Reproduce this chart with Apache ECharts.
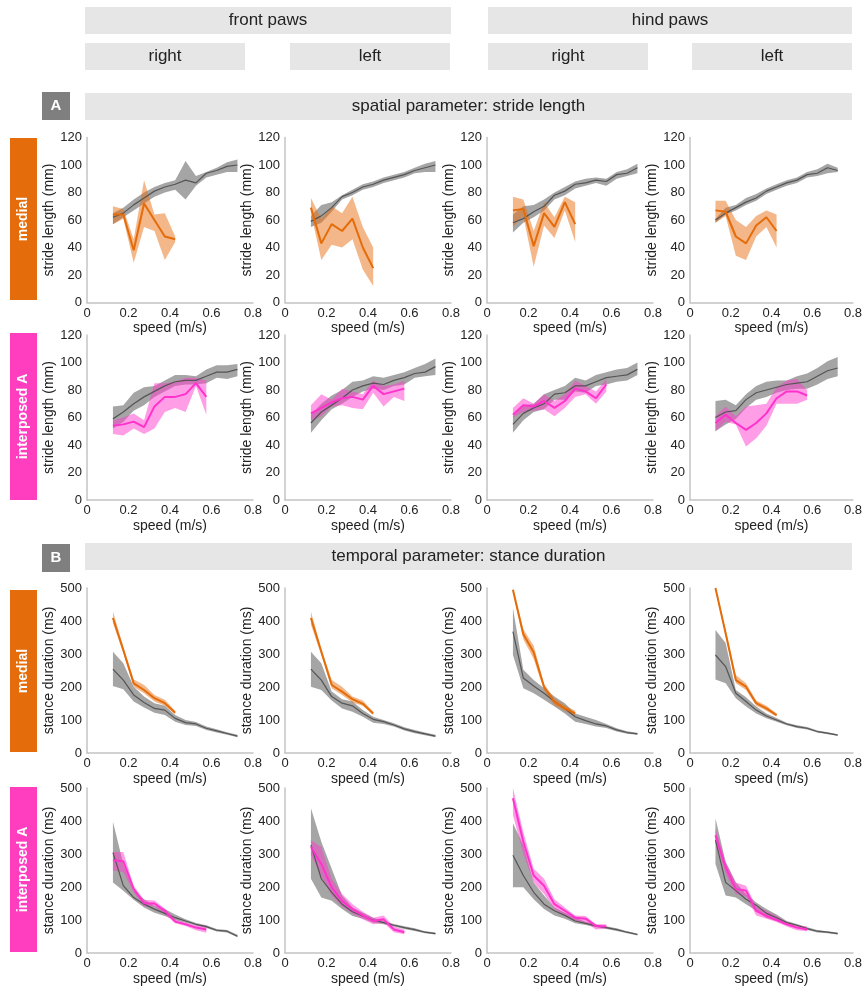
<!DOCTYPE html>
<html>
<head>
<meta charset="utf-8">
<script src="https://cdn.jsdelivr.net/npm/echarts@6/dist/echarts.min.js"></script>
<style>
  body { margin: 0; background: #fff; }
  #main { width: 865px; height: 987px; }
</style>
</head>
<body>
<div id="main"></div>
<script>
// speed bins (m/s)
var speedAll = [0.125, 0.175, 0.225, 0.275, 0.325, 0.375, 0.425, 0.475, 0.525, 0.575, 0.625, 0.675, 0.725];
var speedMed = [0.125, 0.175, 0.225, 0.275, 0.325, 0.375, 0.425];
var speedInt = [0.125, 0.175, 0.225, 0.275, 0.325, 0.375, 0.425, 0.475, 0.525, 0.575];

// stride length (mm), medial row -- ref = grey, grp = coloured
var stMedFR_ref = [62, 65, 71, 76, 81, 84, 86, 89, 87, 94, 96, 99, 100];
var stMedFR_refLo = [57, 62, 67, 72, 77, 80, 82, 75, 85, 91, 93, 95, 95];
var stMedFR_refHi = [65, 69, 75, 80, 84, 87, 89, 103, 92, 95, 98, 102, 104];
var stMedFR_grp = [64, 64, 38, 72, 60, 48, 46];
var stMedFR_grpLo = [57, 61, 29, 55, 52, 31, 44];
var stMedFR_grpHi = [70, 68, 46, 89, 64, 65, 48];

var stMedFL_ref = [59, 63, 69, 77, 80, 84, 86, 89, 91, 93, 96, 98, 100];
var stMedFL_refLo = [55, 58, 66, 75, 78, 82, 84, 87, 89, 91, 94, 95, 95];
var stMedFL_refHi = [63, 71, 73, 78, 82, 86, 88, 91, 93, 95, 98, 101, 103];
var stMedFL_grp = [69, 43, 57, 52, 61, 40, 25];
var stMedFL_grpLo = [65, 31, 42, 40, 46, 24, 12];
var stMedFL_grpHi = [76, 61, 70, 65, 77, 55, 40];

var stMedHR_ref = [58, 61, 66, 70, 78, 81, 86, 87, 89, 88, 93, 94, 98];
var stMedHR_refLo = [51, 58, 62, 67, 75, 78, 83, 85, 87, 85, 90, 92, 94];
var stMedHR_refHi = [64, 70, 71, 75, 80, 84, 88, 90, 91, 90, 95, 97, 101];
var stMedHR_grp = [67, 68, 41, 65, 55, 73, 57];
var stMedHR_grpLo = [55, 63, 26, 56, 47, 67, 44];
var stMedHR_grpHi = [77, 75, 52, 73, 62, 77, 73];

var stMedHL_ref = [60, 65, 69, 73, 76, 81, 84, 87, 89, 93, 94, 98, 96];
var stMedHL_refLo = [58, 64, 67, 71, 74, 79, 82, 85, 87, 91, 92, 94, 95];
var stMedHL_refHi = [61, 69, 71, 76, 79, 83, 86, 89, 91, 95, 97, 101, 98];
var stMedHL_grp = [67, 66, 48, 43, 56, 62, 52];
var stMedHL_grpLo = [58, 63, 34, 31, 48, 55, 40];
var stMedHL_grpHi = [74, 74, 60, 55, 63, 67, 64];

// stride length (mm), interposed A row
var stIntFR_ref = [59, 64, 70, 75, 79, 83, 86, 87, 87, 90, 93, 93, 95];
var stIntFR_refLo = [52, 57, 65, 69, 75, 79, 83, 84, 84, 85, 89, 88, 90];
var stIntFR_refHi = [68, 69, 78, 82, 83, 87, 91, 91, 90, 95, 98, 98, 99];
var stIntFR_grp = [54, 55, 57, 53, 68, 75, 75, 77, 85, 75];
var stIntFR_grpLo = [48, 47, 52, 48, 52, 64, 67, 64, 83, 62];
var stIntFR_grpHi = [58, 60, 63, 58, 85, 85, 86, 89, 89, 87];

var stIntFL_ref = [56, 64, 69, 74, 80, 83, 85, 84, 87, 89, 92, 93, 97];
var stIntFL_refLo = [49, 58, 66, 70, 75, 79, 81, 80, 83, 84, 89, 90, 91];
var stIntFL_refHi = [62, 70, 76, 80, 86, 87, 90, 89, 91, 93, 96, 99, 103];
var stIntFL_grp = [63, 67, 71, 74, 75, 73, 83, 77, 79, 81];
var stIntFL_grpLo = [58, 61, 68, 69, 67, 66, 78, 68, 75, 72];
var stIntFL_grpHi = [69, 77, 73, 81, 79, 77, 87, 83, 84, 87];

var stIntHR_ref = [55, 63, 67, 70, 77, 78, 83, 83, 86, 89, 90, 91, 95];
var stIntHR_refLo = [49, 58, 64, 66, 73, 73, 79, 78, 83, 84, 86, 87, 91];
var stIntHR_refHi = [61, 69, 70, 77, 80, 83, 89, 87, 91, 93, 95, 96, 100];
var stIntHR_grp = [62, 69, 68, 72, 67, 72, 81, 79, 74, 84];
var stIntHR_grpLo = [60, 64, 65, 66, 61, 67, 75, 77, 70, 79];
var stIntHR_grpHi = [67, 74, 70, 77, 72, 77, 87, 83, 79, 88];

var stIntHL_ref = [60, 64, 65, 73, 78, 80, 82, 84, 85, 86, 90, 94, 96];
var stIntHL_refLo = [50, 55, 59, 67, 73, 75, 78, 80, 81, 81, 84, 88, 90];
var stIntHL_refHi = [72, 73, 69, 77, 83, 86, 87, 87, 90, 92, 96, 101, 104];
var stIntHL_grp = [56, 62, 56, 51, 56, 63, 74, 79, 79, 76];
var stIntHL_grpLo = [50, 57, 55, 39, 45, 54, 70, 70, 70, 73];
var stIntHL_grpHi = [61, 68, 61, 68, 69, 70, 82, 87, 88, 80];

// stance duration (ms), medial row
var sdMedFR_ref = [254, 221, 176, 153, 135, 130, 105, 92, 88, 75, 67, 59, 51];
var sdMedFR_refLo = [203, 193, 156, 138, 122, 115, 95, 85, 82, 70, 62, 55, 48];
var sdMedFR_refHi = [307, 272, 201, 171, 151, 143, 115, 100, 94, 80, 72, 63, 55];
var sdMedFR_grp = [409, 312, 211, 191, 166, 151, 122];
var sdMedFR_grpLo = [394, 302, 201, 181, 156, 143, 118];
var sdMedFR_grpHi = [429, 322, 223, 206, 176, 161, 128];

var sdMedFL_ref = [254, 221, 171, 151, 143, 120, 102, 95, 85, 73, 65, 58, 51];
var sdMedFL_refLo = [201, 191, 159, 135, 125, 110, 92, 88, 80, 68, 60, 54, 48];
var sdMedFL_refHi = [307, 272, 186, 163, 156, 130, 110, 100, 90, 78, 70, 62, 55];
var sdMedFL_grp = [409, 307, 206, 186, 163, 149, 120];
var sdMedFL_grpLo = [389, 297, 196, 176, 153, 143, 115];
var sdMedFL_grpHi = [429, 317, 221, 201, 171, 159, 125];

var sdMedHR_ref = [368, 227, 203, 181, 156, 135, 110, 98, 88, 82, 70, 62, 58];
var sdMedHR_refLo = [297, 196, 181, 161, 141, 120, 95, 88, 80, 76, 65, 58, 55];
var sdMedHR_refHi = [439, 252, 221, 196, 171, 151, 120, 110, 100, 88, 75, 66, 61];
var sdMedHR_grp = [495, 360, 305, 200, 155, 135, 120];
var sdMedHR_grpLo = [485, 345, 285, 190, 145, 127, 112];
var sdMedHR_grpHi = [500, 375, 325, 210, 165, 145, 128];

var sdMedHL_ref = [297, 262, 181, 156, 130, 112, 100, 88, 80, 75, 65, 60, 54];
var sdMedHL_refLo = [223, 211, 166, 141, 120, 105, 95, 84, 76, 71, 62, 57, 52];
var sdMedHL_refHi = [373, 333, 191, 169, 141, 120, 106, 92, 84, 79, 68, 63, 57];
var sdMedHL_grp = [500, 363, 221, 201, 151, 135, 115];
var sdMedHL_grpLo = [495, 353, 211, 191, 143, 128, 110];
var sdMedHL_grpHi = [500, 373, 236, 211, 159, 143, 120];

// stance duration (ms), interposed A row
var sdIntFR_ref = [304, 204, 168, 148, 133, 120, 107, 97, 87, 80, 69, 66, 51];
var sdIntFR_refLo = [214, 189, 161, 138, 122, 112, 100, 92, 83, 76, 65, 62, 48];
var sdIntFR_refHi = [398, 270, 189, 163, 143, 133, 117, 102, 91, 84, 73, 70, 55];
var sdIntFR_grp = [281, 278, 194, 151, 150, 128, 95, 87, 77, 71];
var sdIntFR_grpLo = [250, 245, 184, 141, 141, 117, 90, 82, 69, 61];
var sdIntFR_grpHi = [306, 306, 204, 161, 159, 135, 102, 92, 84, 84];

var sdIntFL_ref = [327, 225, 184, 148, 125, 112, 100, 92, 84, 77, 71, 63, 59];
var sdIntFL_refLo = [225, 168, 158, 133, 112, 104, 92, 87, 80, 73, 67, 60, 56];
var sdIntFL_refHi = [439, 337, 255, 174, 138, 122, 107, 97, 88, 81, 75, 66, 62];
var sdIntFL_grp = [321, 270, 199, 158, 133, 114, 97, 102, 71, 63];
var sdIntFL_grpLo = [296, 235, 174, 141, 120, 102, 87, 92, 63, 57];
var sdIntFL_grpHi = [342, 321, 225, 179, 148, 125, 107, 114, 80, 71];

var sdIntHR_ref = [296, 235, 184, 148, 128, 114, 97, 90, 82, 77, 71, 63, 56];
var sdIntHR_refLo = [199, 199, 163, 133, 114, 104, 90, 85, 78, 73, 67, 60, 53];
var sdIntHR_refHi = [393, 327, 214, 174, 138, 122, 107, 95, 86, 81, 75, 66, 59];
var sdIntHR_grp = [469, 337, 235, 204, 148, 128, 107, 104, 82, 80];
var sdIntHR_grpLo = [418, 301, 214, 179, 133, 114, 97, 92, 71, 74];
var sdIntHR_grpHi = [500, 367, 255, 225, 163, 138, 114, 112, 87, 87];

var sdIntHL_ref = [342, 214, 189, 163, 145, 120, 107, 92, 84, 74, 66, 63, 59];
var sdIntHL_refLo = [270, 174, 168, 148, 128, 107, 97, 87, 80, 70, 62, 60, 56];
var sdIntHL_refHi = [408, 276, 214, 179, 153, 133, 117, 97, 88, 78, 70, 66, 62];
var sdIntHL_grp = [357, 260, 194, 189, 128, 112, 100, 87, 77, 71];
var sdIntHL_grpLo = [337, 240, 179, 171, 114, 104, 94, 80, 69, 66];
var sdIntHL_grpHi = [378, 276, 214, 204, 141, 128, 112, 94, 84, 80];

var ORANGE = '#e46c0a', ORANGE_BAND = 'rgba(232,112,20,0.5)';
var PINK = '#ff33cc', PINK_BAND = 'rgba(255,60,205,0.5)';
var GREY = '#555555', GREY_BAND = 'rgba(105,105,105,0.6)';
var FONT = '"Liberation Sans", Arial, sans-serif';

// panel list, row by row
var panels = [
  [speedMed, stMedFR_ref, stMedFR_refLo, stMedFR_refHi, stMedFR_grp, stMedFR_grpLo, stMedFR_grpHi],
  [speedMed, stMedFL_ref, stMedFL_refLo, stMedFL_refHi, stMedFL_grp, stMedFL_grpLo, stMedFL_grpHi],
  [speedMed, stMedHR_ref, stMedHR_refLo, stMedHR_refHi, stMedHR_grp, stMedHR_grpLo, stMedHR_grpHi],
  [speedMed, stMedHL_ref, stMedHL_refLo, stMedHL_refHi, stMedHL_grp, stMedHL_grpLo, stMedHL_grpHi],
  [speedInt, stIntFR_ref, stIntFR_refLo, stIntFR_refHi, stIntFR_grp, stIntFR_grpLo, stIntFR_grpHi],
  [speedInt, stIntFL_ref, stIntFL_refLo, stIntFL_refHi, stIntFL_grp, stIntFL_grpLo, stIntFL_grpHi],
  [speedInt, stIntHR_ref, stIntHR_refLo, stIntHR_refHi, stIntHR_grp, stIntHR_grpLo, stIntHR_grpHi],
  [speedInt, stIntHL_ref, stIntHL_refLo, stIntHL_refHi, stIntHL_grp, stIntHL_grpLo, stIntHL_grpHi],
  [speedMed, sdMedFR_ref, sdMedFR_refLo, sdMedFR_refHi, sdMedFR_grp, sdMedFR_grpLo, sdMedFR_grpHi],
  [speedMed, sdMedFL_ref, sdMedFL_refLo, sdMedFL_refHi, sdMedFL_grp, sdMedFL_grpLo, sdMedFL_grpHi],
  [speedMed, sdMedHR_ref, sdMedHR_refLo, sdMedHR_refHi, sdMedHR_grp, sdMedHR_grpLo, sdMedHR_grpHi],
  [speedMed, sdMedHL_ref, sdMedHL_refLo, sdMedHL_refHi, sdMedHL_grp, sdMedHL_grpLo, sdMedHL_grpHi],
  [speedInt, sdIntFR_ref, sdIntFR_refLo, sdIntFR_refHi, sdIntFR_grp, sdIntFR_grpLo, sdIntFR_grpHi],
  [speedInt, sdIntFL_ref, sdIntFL_refLo, sdIntFL_refHi, sdIntFL_grp, sdIntFL_grpLo, sdIntFL_grpHi],
  [speedInt, sdIntHR_ref, sdIntHR_refLo, sdIntHR_refHi, sdIntHR_grp, sdIntHR_grpLo, sdIntHR_grpHi],
  [speedInt, sdIntHL_ref, sdIntHL_refLo, sdIntHL_refHi, sdIntHL_grp, sdIntHL_grpLo, sdIntHL_grpHi]
];

var colLeft = [87, 285, 487, 690];
var rowTop = [137.5, 335, 588, 788];

var grids = [], xAxes = [], yAxes = [], series = [];

function pairs(x, y) {
  return x.map(function (v, i) { return [v, y[i]]; });
}

// shaded band between lo and hi, drawn as one polygon through the axis scales
function addBand(gi, x, lo, hi, color) {
  series.push({
    type: 'custom', xAxisIndex: gi, yAxisIndex: gi, silent: true,
    data: x.map(function (v, i) { return [v, lo[i], hi[i]]; }),
    encode: { x: 0, y: [1, 2] },
    renderItem: function (params, api) {
      if (params.dataIndex !== 0) return;
      var pts = [], i;
      for (i = 0; i < x.length; i++) pts.push(api.coord([x[i], hi[i]]));
      for (i = x.length - 1; i >= 0; i--) pts.push(api.coord([x[i], lo[i]]));
      return { type: 'polygon', shape: { points: pts }, style: { fill: color } };
    }
  });
}

function addLine(gi, x, y, color, w) {
  series.push({ type: 'line', xAxisIndex: gi, yAxisIndex: gi, symbol: 'none', silent: true,
    data: pairs(x, y), lineStyle: { color: color, width: w } });
}

panels.forEach(function (p, i) {
  var row = Math.floor(i / 4), col = i % 4;
  var stride = row < 2;
  var interposed = row % 2 === 1;
  grids.push({ left: colLeft[col], top: rowTop[row], width: 166, height: 165 });
  xAxes.push({
    gridIndex: i, type: 'value', min: 0, max: 0.8, interval: 0.2,
    name: 'speed (m/s)', nameLocation: 'middle', nameGap: 19,
    nameTextStyle: { fontSize: 14, color: '#222', fontFamily: FONT },
    axisLine: { show: true, lineStyle: { color: '#c4c4c4', width: 1.5 } },
    axisTick: { show: false }, splitLine: { show: false },
    axisLabel: { fontSize: 13, color: '#222', margin: 4, fontFamily: FONT,
      formatter: function (v) { return v === 0 ? '0' : v.toFixed(1); } }
  });
  yAxes.push({
    gridIndex: i, type: 'value', min: 0, max: stride ? 120 : 500, interval: stride ? 20 : 100,
    name: stride ? 'stride length (mm)' : 'stance duration (ms)',
    nameLocation: 'middle', nameGap: 30,
    nameTextStyle: { fontSize: 14, color: '#222', fontFamily: FONT },
    axisLine: { show: true, lineStyle: { color: '#c4c4c4', width: 1.5 } },
    axisTick: { show: false }, splitLine: { show: false },
    axisLabel: { fontSize: 13, color: '#222', margin: 5, fontFamily: FONT }
  });
  var x = p[0];
  addBand(i, speedAll, p[2], p[3], GREY_BAND);
  addLine(i, speedAll, p[1], GREY, 1.2);
  addBand(i, x, p[5], p[6], interposed ? PINK_BAND : ORANGE_BAND);
  addLine(i, x, p[4], interposed ? PINK : ORANGE, 2);
});

// headers, section titles and row labels
var graphics = [];
function box(x, y, w, h, fill, label, size, bold, color) {
  graphics.push({
    type: 'rect', shape: { x: x, y: y, width: w, height: h }, style: { fill: fill },
    textContent: { style: { text: label, fontSize: size, fontFamily: FONT, fontWeight: bold ? 'bold' : 'normal', fill: color } },
    textConfig: { position: 'inside' }
  });
}
function sideBox(y, h, fill, label) {
  graphics.push({ type: 'rect', shape: { x: 10, y: y, width: 27, height: h }, style: { fill: fill } });
  graphics.push({
    type: 'text', x: 23.5, y: y + h / 2, rotation: Math.PI / 2,
    style: { text: label, fontSize: 14, fontWeight: 'bold', fontFamily: FONT, fill: '#fff', align: 'center', verticalAlign: 'middle' }
  });
}
box(85, 7, 366, 27, '#e6e6e6', 'front paws', 17, false, '#222');
box(488, 7, 364, 27, '#e6e6e6', 'hind paws', 17, false, '#222');
box(85, 43, 160, 27, '#e6e6e6', 'right', 17, false, '#222');
box(290, 43, 160, 27, '#e6e6e6', 'left', 17, false, '#222');
box(488, 43, 160, 27, '#e6e6e6', 'right', 17, false, '#222');
box(692, 43, 160, 27, '#e6e6e6', 'left', 17, false, '#222');
box(42, 92, 28, 28, '#7f7f7f', 'A', 15, true, '#fff');
box(85, 93, 767, 27, '#e6e6e6', 'spatial parameter: stride length', 17, false, '#222');
box(42, 544, 28, 28, '#7f7f7f', 'B', 15, true, '#fff');
box(85, 543, 767, 27, '#e6e6e6', 'temporal parameter: stance duration', 17, false, '#222');
sideBox(138, 162, ORANGE, 'medial');
sideBox(333, 167, '#ff3dbf', 'interposed A');
sideBox(590, 162, ORANGE, 'medial');
sideBox(787, 165, '#ff3dbf', 'interposed A');

var myChart = echarts.init(document.getElementById('main'));
myChart.setOption({
  animation: false,
  textStyle: { fontFamily: FONT },
  grid: grids,
  xAxis: xAxes,
  yAxis: yAxes,
  series: series,
  graphic: graphics
});
</script>
</body>
</html>
